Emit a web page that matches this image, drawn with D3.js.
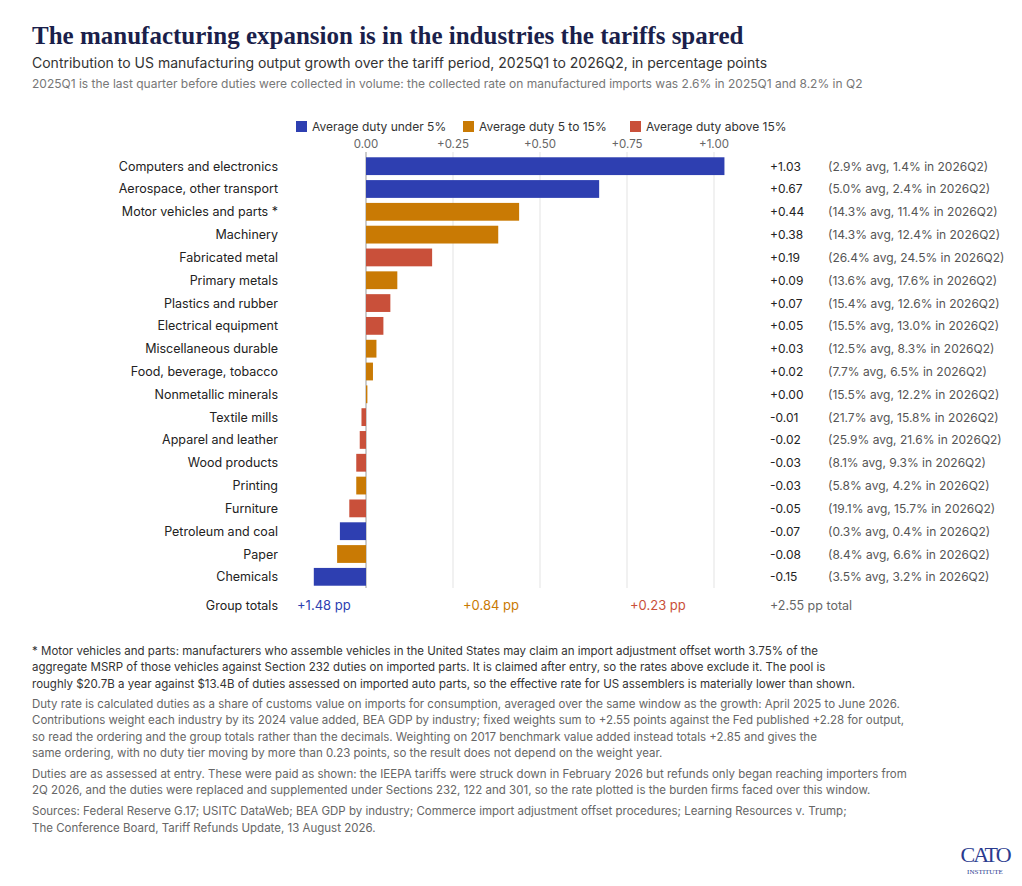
<!DOCTYPE html><html><head><meta charset="utf-8">
<script src="https://cdn.jsdelivr.net/npm/d3@7"></script>
<style>body{margin:0;background:#fff}</style></head><body>
<svg id="c" width="1022" height="886"></svg>
<script>
const categories=["Computers and electronics","Aerospace, other transport","Motor vehicles and parts *","Machinery","Fabricated metal","Primary metals","Plastics and rubber","Electrical equipment","Miscellaneous durable","Food, beverage, tobacco","Nonmetallic minerals","Textile mills","Apparel and leather","Wood products","Printing","Furniture","Petroleum and coal","Paper","Chemicals"];
const values=[1.03,0.67,0.44,0.38,0.19,0.09,0.07,0.05,0.03,0.02,0.004,-0.013,-0.018,-0.028,-0.028,-0.048,-0.075,-0.083,-0.15];
const labels=["+1.03","+0.67","+0.44","+0.38","+0.19","+0.09","+0.07","+0.05","+0.03","+0.02","+0.00","-0.01","-0.02","-0.03","-0.03","-0.05","-0.07","-0.08","-0.15"];
const tiers=[0,0,1,1,2,1,2,2,1,1,1,2,2,2,1,2,0,1,0];
const notes=["(2.9% avg, 1.4% in 2026Q2)","(5.0% avg, 2.4% in 2026Q2)","(14.3% avg, 11.4% in 2026Q2)","(14.3% avg, 12.4% in 2026Q2)","(26.4% avg, 24.5% in 2026Q2)","(13.6% avg, 17.6% in 2026Q2)","(15.4% avg, 12.6% in 2026Q2)","(15.5% avg, 13.0% in 2026Q2)","(12.5% avg, 8.3% in 2026Q2)","(7.7% avg, 6.5% in 2026Q2)","(15.5% avg, 12.2% in 2026Q2)","(21.7% avg, 15.8% in 2026Q2)","(25.9% avg, 21.6% in 2026Q2)","(8.1% avg, 9.3% in 2026Q2)","(5.8% avg, 4.2% in 2026Q2)","(19.1% avg, 15.7% in 2026Q2)","(0.3% avg, 0.4% in 2026Q2)","(8.4% avg, 6.6% in 2026Q2)","(3.5% avg, 3.2% in 2026Q2)"];
const tierNames=["Average duty under 5%","Average duty 5 to 15%","Average duty above 15%"];
const tierColors=["#2e3fb1","#c97a04","#c9503a"];
const groupTotals=["+1.48 pp","+0.84 pp","+0.23 pp"];
const ticks=[0,0.25,0.5,0.75,1.0];
const tickLabels=["0.00","+0.25","+0.50","+0.75","+1.00"];

const svg=d3.select("#c"),F="Inter, 'Noto Sans', sans-serif";
const x=d3.scaleLinear().domain([0,1]).range([366,714]);
const y=d3.scaleBand().domain(categories).range([155,588]).paddingInner(0.22).paddingOuter(0.1);
svg.append("text").attr("x",32).attr("y",44).attr("font-family","'Liberation Serif',serif").attr("font-weight","bold").attr("font-size",25).attr("fill","#1b1f4b").text("The manufacturing expansion is in the industries the tariffs spared");
svg.append("text").attr("x",32).attr("y",68).attr("font-family",F).attr("font-size",14).attr("fill","#333").text("Contribution to US manufacturing output growth over the tariff period, 2025Q1 to 2026Q2, in percentage points");
svg.append("text").attr("x",32).attr("y",88).attr("font-family",F).attr("font-size",12).attr("fill","#777").text("2025Q1 is the last quarter before duties were collected in volume: the collected rate on manufactured imports was 2.6% in 2025Q1 and 8.2% in Q2");
// legend
const lx=[296,463,630];
tierNames.forEach((n,i)=>{svg.append("rect").attr("x",lx[i]).attr("y",121).attr("width",11).attr("height",11).attr("fill",tierColors[i]);
svg.append("text").attr("x",lx[i]+16).attr("y",131).attr("font-family",F).attr("font-size",12).attr("fill","#333").text(n);});
// grid
ticks.forEach((t,i)=>{svg.append("line").attr("x1",x(t)).attr("x2",x(t)).attr("y1",152).attr("y2",588).attr("stroke",i==0?"#999":"#e3e3e3").attr("stroke-width",1);
svg.append("text").attr("x",x(t)).attr("y",148).attr("text-anchor","middle").attr("font-family",F).attr("font-size",11.5).attr("fill","#666").text(tickLabels[i]);});
const g=svg.append("g");
categories.forEach((c,i)=>{const v=values[i],yy=y(c);
g.append("rect").attr("x",x(Math.min(0,v))).attr("y",yy).attr("width",Math.abs(x(v)-x(0))).attr("height",y.bandwidth()).attr("fill",tierColors[tiers[i]]);
const cy=yy+y.bandwidth()/2+4.5;
g.append("text").attr("x",278).attr("y",cy).attr("text-anchor","end").attr("font-family",F).attr("font-size",12.5).attr("fill","#222").text(c);
g.append("text").attr("x",770).attr("y",cy).attr("font-family",F).attr("font-size",12).attr("fill","#222").text(labels[i]);
g.append("text").attr("x",828).attr("y",cy).attr("font-family",F).attr("font-size",12).attr("fill","#555").text(notes[i]);});
svg.append("text").attr("x",278).attr("y",610).attr("text-anchor","end").attr("font-family",F).attr("font-size",12.5).attr("fill","#222").text("Group totals");
const gx=[297,463,630];
groupTotals.forEach((t,i)=>svg.append("text").attr("x",gx[i]).attr("y",610).attr("font-family",F).attr("font-size",13).attr("fill",tierColors[i]).text(t));
svg.append("text").attr("x",770).attr("y",610).attr("font-family",F).attr("font-size",12.5).attr("fill","#666").text("+2.55 pp total");
const foot=[[655,"* Motor vehicles and parts: manufacturers who assemble vehicles in the United States may claim an import adjustment offset worth 3.75% of the"],[671,"aggregate MSRP of those vehicles against Section 232 duties on imported parts. It is claimed after entry, so the rates above exclude it. The pool is"],[688,"roughly $20.7B a year against $13.4B of duties assessed on imported auto parts, so the effective rate for US assemblers is materially lower than shown."],
[708,"Duty rate is calculated duties as a share of customs value on imports for consumption, averaged over the same window as the growth: April 2025 to June 2026."],[724,"Contributions weight each industry by its 2024 value added, BEA GDP by industry; fixed weights sum to +2.55 points against the Fed published +2.28 for output,"],[741,"so read the ordering and the group totals rather than the decimals. Weighting on 2017 benchmark value added instead totals +2.85 and gives the"],[757,"same ordering, with no duty tier moving by more than 0.23 points, so the result does not depend on the weight year."],
[778,"Duties are as assessed at entry. These were paid as shown: the IEEPA tariffs were struck down in February 2026 but refunds only began reaching importers from"],[794,"2Q 2026, and the duties were replaced and supplemented under Sections 232, 122 and 301, so the rate plotted is the burden firms faced over this window."],
[815,"Sources: Federal Reserve G.17; USITC DataWeb; BEA GDP by industry; Commerce import adjustment offset procedures; Learning Resources v. Trump;"],[832,"The Conference Board, Tariff Refunds Update, 13 August 2026."]];
foot.forEach(([yy,t],i)=>svg.append("text").attr("x",32).attr("y",yy).attr("font-family",F).attr("font-size",11.5).attr("fill",i<3?"#333":"#666").text(t));
svg.append("text").attr("x",985).attr("y",862).attr("text-anchor","middle").attr("font-family","'Liberation Serif',serif").attr("font-size",22).attr("fill","#2b3b8f").attr("letter-spacing",-2).text("CATO");
svg.append("text").attr("x",985).attr("y",874).attr("text-anchor","middle").attr("font-family","'Liberation Serif',serif").attr("font-size",7).attr("fill","#2b3b8f").text("INSTITUTE");
</script></body></html>
